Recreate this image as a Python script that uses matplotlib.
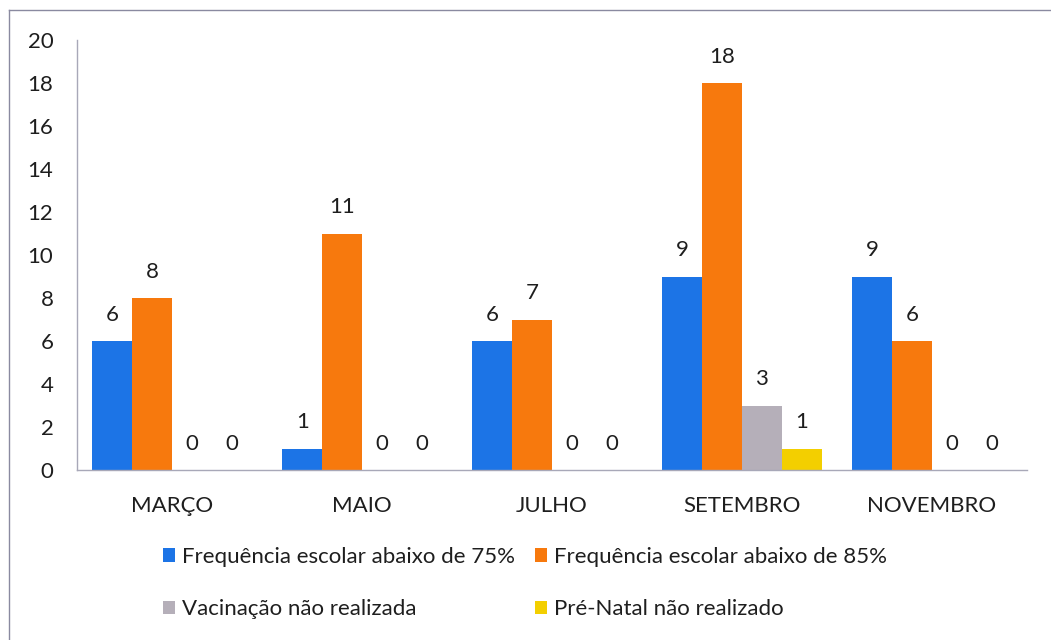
import numpy as np
import matplotlib.pyplot as plt
from matplotlib.patches import Patch
from matplotlib.lines import Line2D

meses = ["MARÇO", "MAIO", "JULHO", "SETEMBRO", "NOVEMBRO"]
series = ["Frequência escolar abaixo de 75%", "Frequência escolar abaixo de 85%",
          "Vacinação não realizada", "Pré-Natal não realizado"]
freq75 = [6, 1, 6, 9, 9]
freq85 = [8, 11, 7, 18, 6]
vacinacao = [0, 0, 0, 3, 0]
prenatal = [0, 0, 0, 1, 0]
cores = ["#1c74e6", "#f7790d", "#b5afb9", "#f3cf00"]

plt.rcParams['font.family'] = ['Lato', 'DejaVu Sans']
fs = 16
cor_texto = '#1e1e1e'

fig = plt.figure(figsize=(10.51, 6.4), dpi=100)
ax = fig.add_axes([77/1051, 1-470/640, 950/1051, 430/640])

x = np.arange(len(meses))
w = 0.21
valores = [freq75, freq85, vacinacao, prenatal]
for i, (vals, c) in enumerate(zip(valores, cores)):
    pos = x + (i - 1.5) * w
    ax.bar(pos, vals, width=w, color=c, zorder=2)
    for px, v in zip(pos, vals):
        ax.annotate(str(v), (px, v), xytext=(0, 19), textcoords='offset points',
                    ha='center', va='center', fontsize=fs, color=cor_texto)

ax.set_xlim(-0.5, len(meses) - 0.5)
ax.set_ylim(0, 20)
ax.set_yticks(range(0, 21, 2))
ax.set_xticks(x)
ax.set_xticklabels(meses)
ax.tick_params(axis='both', length=0, labelsize=fs, colors=cor_texto)
ax.tick_params(axis='y', pad=17)
ax.tick_params(axis='x', pad=19)
for s in ['top', 'right']:
    ax.spines[s].set_visible(False)
for s in ['left', 'bottom']:
    ax.spines[s].set_color('#a8a8b8')
    ax.spines[s].set_linewidth(1.0)

# ordem da legenda por linhas (matplotlib preenche por colunas)
ordem = [0, 2, 1, 3]
handles = [Patch(facecolor=cores[k], edgecolor='none') for k in ordem]
labels = [series[k] for k in ordem]
fig.legend(handles, labels, loc='upper left', bbox_to_anchor=(143/1051, 1-527/640),
           ncol=2, frameon=False, fontsize=fs, handlelength=0.55, handleheight=0.55,
           handletextpad=0.3, columnspacing=0.9, labelspacing=1.45,
           labelcolor=cor_texto)

# moldura da figura
fig.add_artist(Line2D([9/1051, 9/1051], [0, 1-10/640], color='#8a8aa0', lw=1.0))
fig.add_artist(Line2D([9/1051, 1], [1-10/640, 1-10/640], color='#8a8aa0', lw=1.0))

fig.savefig("out.png", dpi=100)
